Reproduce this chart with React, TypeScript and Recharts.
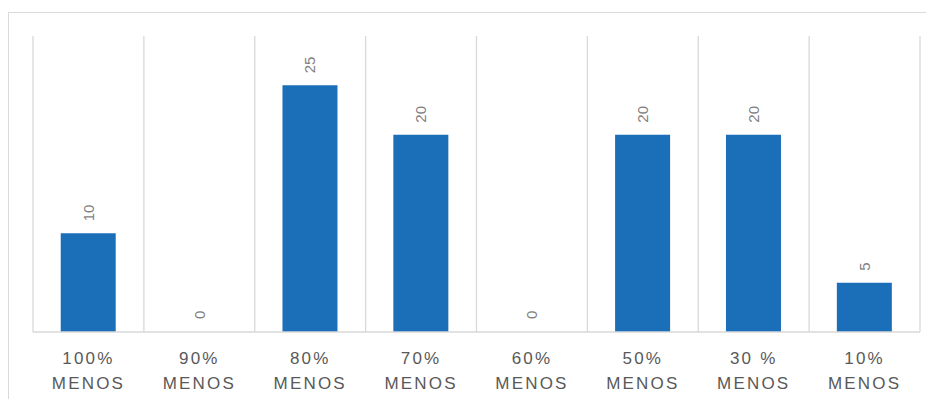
import { BarChart, Bar, XAxis, YAxis, CartesianGrid, LabelList, Rectangle } from "recharts";

const categories = [
  "100% MENOS",
  "90% MENOS",
  "80% MENOS",
  "70% MENOS",
  "60% MENOS",
  "50% MENOS",
  "30 % MENOS",
  "10% MENOS",
];
const values = [10, 0, 25, 20, 0, 20, 20, 5];

const data = categories.map((name, i) => ({ name, value: values[i], label: String(values[i]) }));

const FONT = "'Liberation Sans', Arial, sans-serif";

function CategoryTick({ x, y, payload }: any) {
  const label: string = payload.value;
  const cut = label.lastIndexOf(" ");
  const top = label.slice(0, cut);
  const bottom = label.slice(cut + 1);
  return (
    <text
      x={x}
      y={y}
      textAnchor="middle"
      fill="#595959"
      fontSize={17}
      fontFamily={FONT}
      style={{ letterSpacing: "2.2px" }}
    >
      <tspan x={x} dy={24}>
        {top}
      </tspan>
      <tspan x={x} dy={25}>
        {bottom}
      </tspan>
    </text>
  );
}

function ValueLabel({ x, y, width, value }: any) {
  const cx = x + width / 2;
  const cy = y - 12;
  return (
    <text
      x={cx}
      y={cy}
      transform={`rotate(-90 ${cx} ${cy})`}
      textAnchor="start"
      dominantBaseline="central"
      fill="#7f7f7f"
      fontSize={15}
      fontFamily={FONT}
    >
      {value}
    </text>
  );
}

// zero values still need a slot so their "0" label gets drawn; draw no rect for them
function BarShape(props: any) {
  if (!props.value) return <g />;
  return <Rectangle {...props} />;
}

export default function App() {
  const n = categories.length;
  return (
    <div
      style={{
        marginTop: 4,
        width: 926,
        height: 391,
        borderTop: "1px solid #d9d9d9",
        borderLeft: "1px solid #d9d9d9",
        overflow: "hidden",
      }}
    >
      <BarChart
        width={925}
        height={386}
        data={data}
        margin={{ top: 23, right: 14, left: 24, bottom: 0 }}
        barCategoryGap="25%"
      >
        <CartesianGrid
          horizontal={false}
          stroke="#d9d9d9"
          strokeWidth={1.3}
          verticalCoordinatesGenerator={({ offset }: any) =>
            Array.from({ length: n + 1 }, (_, i) => offset.left + (offset.width * i) / n)
          }
        />
        <XAxis
          dataKey="name"
          height={67}
          interval={0}
          tickLine={false}
          axisLine={{ stroke: "#d9d9d9", strokeWidth: 1.3 }}
          tick={<CategoryTick />}
        />
        <YAxis hide domain={[0, 30]} />
        <Bar
          dataKey="value"
          fill="#1b6fb8"
          minPointSize={1}
          shape={<BarShape />}
          isAnimationActive={false}
        >
          <LabelList dataKey="label" content={<ValueLabel />} />
        </Bar>
      </BarChart>
    </div>
  );
}
